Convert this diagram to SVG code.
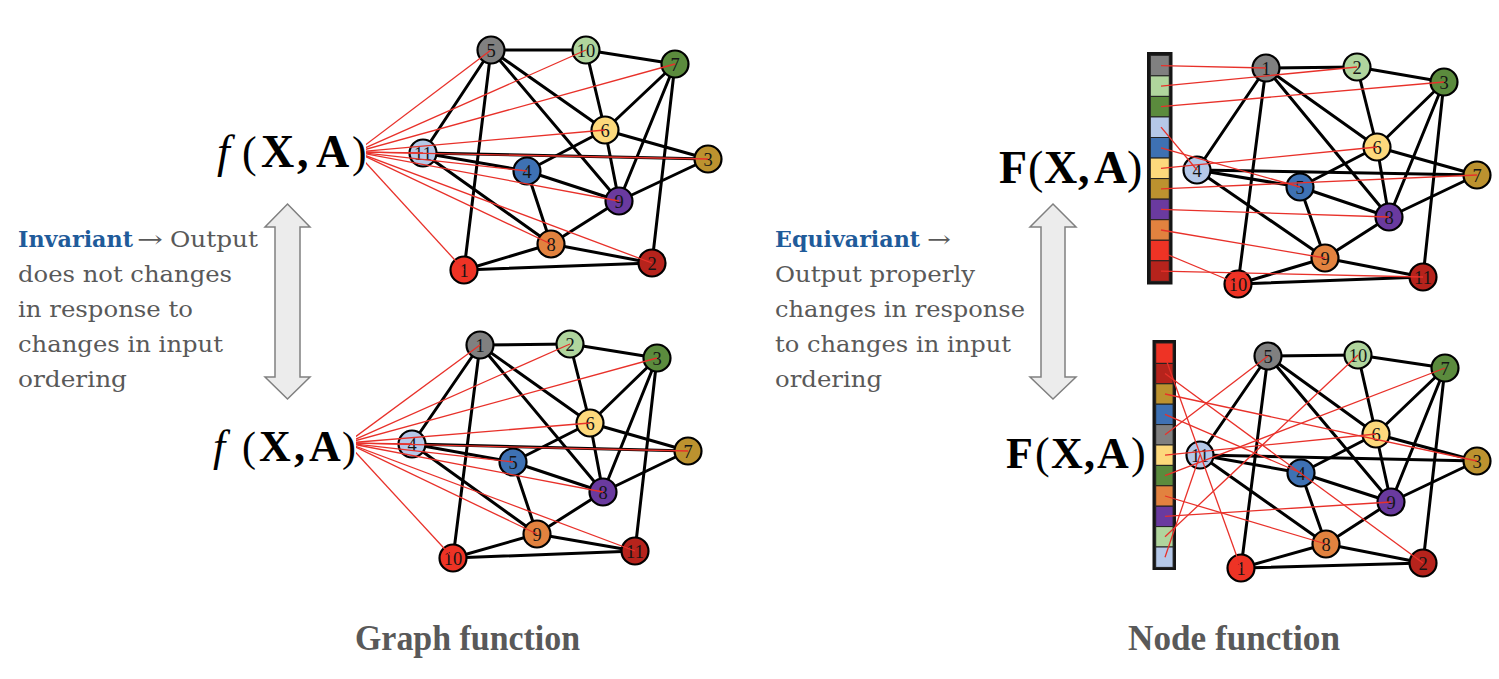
<svg xmlns="http://www.w3.org/2000/svg" width="1499" height="679" viewBox="0 0 1499 679">
<style>
.edge{stroke:#000;stroke-width:3;stroke-linecap:round}
.red{stroke:#e8312a;stroke-width:1.3;fill:none}
.node circle{stroke:#000;stroke-width:2.2}
.node text{font-family:"Liberation Serif",serif;font-size:18.5px;text-anchor:middle;fill:#151515}
.gy{fill:#808080}.lg{fill:#b0d59d}.gn{fill:#5b8b3d}.lb{fill:#b5c8e8}.bl{fill:#3e71b3}.ye{fill:#fdd97c}.ol{fill:#bc922f}.pu{fill:#6a3a9f}.or{fill:#e2823f}.rd{fill:#ee3325}.dr{fill:#b6231c}
.math{font-family:"Liberation Serif",serif;fill:#000}
.body{font-family:"DejaVu Serif",serif;font-size:23px;fill:#595959}
.kw{font-family:"DejaVu Serif",serif;font-size:23px;font-weight:bold;fill:#1f5b9a}
.title{font-family:"Liberation Serif",serif;font-size:35px;font-weight:bold;fill:#595959}
.arrow{fill:#ececec;stroke:#808080;stroke-width:1.5}
.bar{fill:#151515}
.cell{stroke:#222;stroke-width:1}
</style>
<defs>
<clipPath id="clipTL"><rect x="366" y="0" width="400" height="320"/></clipPath>
<clipPath id="clipBL"><rect x="356" y="300" width="400" height="300"/></clipPath>
</defs>

<g id="connectors">
<g id="edges-tl" class="edge">
<line x1="491" y1="50" x2="586" y2="50"/><line x1="586" y1="50" x2="675" y2="64"/><line x1="491" y1="50" x2="423" y2="153"/><line x1="491" y1="50" x2="464" y2="270"/><line x1="491" y1="50" x2="605" y2="130"/><line x1="491" y1="50" x2="619" y2="201"/><line x1="586" y1="50" x2="605" y2="130"/><line x1="675" y1="64" x2="605" y2="130"/><line x1="675" y1="64" x2="619" y2="201"/><line x1="675" y1="64" x2="652" y2="263"/><line x1="605" y1="130" x2="527" y2="171"/><line x1="605" y1="130" x2="708" y2="159"/><line x1="605" y1="130" x2="619" y2="201"/><line x1="423" y1="153" x2="708" y2="159"/><line x1="423" y1="153" x2="527" y2="171"/><line x1="423" y1="153" x2="551" y2="244"/><line x1="527" y1="171" x2="619" y2="201"/><line x1="527" y1="171" x2="551" y2="244"/><line x1="619" y1="201" x2="708" y2="159"/><line x1="619" y1="201" x2="551" y2="244"/><line x1="551" y1="244" x2="464" y2="270"/><line x1="551" y1="244" x2="652" y2="263"/><line x1="464" y1="270" x2="652" y2="263"/>
</g>
<g id="edges-bl" class="edge">
<line x1="480" y1="345" x2="570" y2="344"/><line x1="570" y1="344" x2="657" y2="358"/><line x1="480" y1="345" x2="412" y2="444"/><line x1="480" y1="345" x2="453" y2="558"/><line x1="480" y1="345" x2="590" y2="423"/><line x1="480" y1="345" x2="603" y2="492"/><line x1="570" y1="344" x2="590" y2="423"/><line x1="657" y1="358" x2="590" y2="423"/><line x1="657" y1="358" x2="603" y2="492"/><line x1="657" y1="358" x2="635" y2="551"/><line x1="590" y1="423" x2="513" y2="462"/><line x1="590" y1="423" x2="688" y2="451"/><line x1="590" y1="423" x2="603" y2="492"/><line x1="412" y1="444" x2="688" y2="451"/><line x1="412" y1="444" x2="513" y2="462"/><line x1="412" y1="444" x2="537" y2="534"/><line x1="513" y1="462" x2="603" y2="492"/><line x1="513" y1="462" x2="537" y2="534"/><line x1="603" y1="492" x2="688" y2="451"/><line x1="603" y1="492" x2="537" y2="534"/><line x1="537" y1="534" x2="453" y2="558"/><line x1="537" y1="534" x2="635" y2="551"/><line x1="453" y1="558" x2="635" y2="551"/>
</g>
<g id="edges-tr" class="edge">
<line x1="1266" y1="68" x2="1357" y2="67"/><line x1="1357" y1="67" x2="1444" y2="82"/><line x1="1266" y1="68" x2="1197" y2="170"/><line x1="1266" y1="68" x2="1238" y2="284"/><line x1="1266" y1="68" x2="1377" y2="147"/><line x1="1266" y1="68" x2="1389" y2="217"/><line x1="1357" y1="67" x2="1377" y2="147"/><line x1="1444" y1="82" x2="1377" y2="147"/><line x1="1444" y1="82" x2="1389" y2="217"/><line x1="1444" y1="82" x2="1423" y2="277"/><line x1="1377" y1="147" x2="1300" y2="187"/><line x1="1377" y1="147" x2="1477" y2="175"/><line x1="1377" y1="147" x2="1389" y2="217"/><line x1="1197" y1="170" x2="1477" y2="175"/><line x1="1197" y1="170" x2="1300" y2="187"/><line x1="1197" y1="170" x2="1325" y2="258"/><line x1="1300" y1="187" x2="1389" y2="217"/><line x1="1300" y1="187" x2="1325" y2="258"/><line x1="1389" y1="217" x2="1477" y2="175"/><line x1="1389" y1="217" x2="1325" y2="258"/><line x1="1325" y1="258" x2="1238" y2="284"/><line x1="1325" y1="258" x2="1423" y2="277"/><line x1="1238" y1="284" x2="1423" y2="277"/>
</g>
<g id="edges-br" class="edge">
<line x1="1268" y1="356" x2="1358" y2="355"/><line x1="1358" y1="355" x2="1445" y2="368"/><line x1="1268" y1="356" x2="1200" y2="455"/><line x1="1268" y1="356" x2="1241" y2="568"/><line x1="1268" y1="356" x2="1376" y2="434"/><line x1="1268" y1="356" x2="1391" y2="502"/><line x1="1358" y1="355" x2="1376" y2="434"/><line x1="1445" y1="368" x2="1376" y2="434"/><line x1="1445" y1="368" x2="1391" y2="502"/><line x1="1445" y1="368" x2="1423" y2="563"/><line x1="1376" y1="434" x2="1301" y2="473"/><line x1="1376" y1="434" x2="1477" y2="461"/><line x1="1376" y1="434" x2="1391" y2="502"/><line x1="1200" y1="455" x2="1477" y2="461"/><line x1="1200" y1="455" x2="1301" y2="473"/><line x1="1200" y1="455" x2="1326" y2="544"/><line x1="1301" y1="473" x2="1391" y2="502"/><line x1="1301" y1="473" x2="1326" y2="544"/><line x1="1391" y1="502" x2="1477" y2="461"/><line x1="1391" y1="502" x2="1326" y2="544"/><line x1="1326" y1="544" x2="1241" y2="568"/><line x1="1326" y1="544" x2="1423" y2="563"/><line x1="1241" y1="568" x2="1423" y2="563"/>
</g>
</g>

<g id="tl-n5" class="node"><circle cx="491" cy="50" r="13.5" class="gy"/><text x="491" y="56.5">5</text></g>
<g id="tl-n10" class="node"><circle cx="586" cy="50" r="13.5" class="lg"/><text x="586" y="56.5">10</text></g>
<g id="tl-n7" class="node"><circle cx="675" cy="64" r="13.5" class="gn"/><text x="675" y="70.5">7</text></g>
<g id="tl-n6" class="node"><circle cx="605" cy="130" r="13.5" class="ye"/><text x="605" y="136.5">6</text></g>
<g id="tl-n11" class="node"><circle cx="423" cy="153" r="13.5" class="lb"/><text x="423" y="159.5">11</text></g>
<g id="tl-n3" class="node"><circle cx="708" cy="159" r="13.5" class="ol"/><text x="708" y="165.5">3</text></g>
<g id="tl-n4" class="node"><circle cx="527" cy="171" r="13.5" class="bl"/><text x="527" y="177.5">4</text></g>
<g id="tl-n9" class="node"><circle cx="619" cy="201" r="13.5" class="pu"/><text x="619" y="207.5">9</text></g>
<g id="tl-n8" class="node"><circle cx="551" cy="244" r="13.5" class="or"/><text x="551" y="250.5">8</text></g>
<g id="tl-n1" class="node"><circle cx="464" cy="270" r="13.5" class="rd"/><text x="464" y="276.5">1</text></g>
<g id="tl-n2" class="node"><circle cx="652" cy="263" r="13.5" class="dr"/><text x="652" y="269.5">2</text></g>

<g id="bl-n1" class="node"><circle cx="480" cy="345" r="13.5" class="gy"/><text x="480" y="351.5">1</text></g>
<g id="bl-n2" class="node"><circle cx="570" cy="344" r="13.5" class="lg"/><text x="570" y="350.5">2</text></g>
<g id="bl-n3" class="node"><circle cx="657" cy="358" r="13.5" class="gn"/><text x="657" y="364.5">3</text></g>
<g id="bl-n6" class="node"><circle cx="590" cy="423" r="13.5" class="ye"/><text x="590" y="429.5">6</text></g>
<g id="bl-n4" class="node"><circle cx="412" cy="444" r="13.5" class="lb"/><text x="412" y="450.5">4</text></g>
<g id="bl-n7" class="node"><circle cx="688" cy="451" r="13.5" class="ol"/><text x="688" y="457.5">7</text></g>
<g id="bl-n5" class="node"><circle cx="513" cy="462" r="13.5" class="bl"/><text x="513" y="468.5">5</text></g>
<g id="bl-n8" class="node"><circle cx="603" cy="492" r="13.5" class="pu"/><text x="603" y="498.5">8</text></g>
<g id="bl-n9" class="node"><circle cx="537" cy="534" r="13.5" class="or"/><text x="537" y="540.5">9</text></g>
<g id="bl-n10" class="node"><circle cx="453" cy="558" r="13.5" class="rd"/><text x="453" y="564.5">10</text></g>
<g id="bl-n11" class="node"><circle cx="635" cy="551" r="13.5" class="dr"/><text x="635" y="557.5">11</text></g>

<g id="tr-n1" class="node"><circle cx="1266" cy="68" r="13.5" class="gy"/><text x="1266" y="74.5">1</text></g>
<g id="tr-n2" class="node"><circle cx="1357" cy="67" r="13.5" class="lg"/><text x="1357" y="73.5">2</text></g>
<g id="tr-n3" class="node"><circle cx="1444" cy="82" r="13.5" class="gn"/><text x="1444" y="88.5">3</text></g>
<g id="tr-n6" class="node"><circle cx="1377" cy="147" r="13.5" class="ye"/><text x="1377" y="153.5">6</text></g>
<g id="tr-n4" class="node"><circle cx="1197" cy="170" r="13.5" class="lb"/><text x="1197" y="176.5">4</text></g>
<g id="tr-n7" class="node"><circle cx="1477" cy="175" r="13.5" class="ol"/><text x="1477" y="181.5">7</text></g>
<g id="tr-n5" class="node"><circle cx="1300" cy="187" r="13.5" class="bl"/><text x="1300" y="193.5">5</text></g>
<g id="tr-n8" class="node"><circle cx="1389" cy="217" r="13.5" class="pu"/><text x="1389" y="223.5">8</text></g>
<g id="tr-n9" class="node"><circle cx="1325" cy="258" r="13.5" class="or"/><text x="1325" y="264.5">9</text></g>
<g id="tr-n10" class="node"><circle cx="1238" cy="284" r="13.5" class="rd"/><text x="1238" y="290.5">10</text></g>
<g id="tr-n11" class="node"><circle cx="1423" cy="277" r="13.5" class="dr"/><text x="1423" y="283.5">11</text></g>

<g id="br-n5" class="node"><circle cx="1268" cy="356" r="13.5" class="gy"/><text x="1268" y="362.5">5</text></g>
<g id="br-n10" class="node"><circle cx="1358" cy="355" r="13.5" class="lg"/><text x="1358" y="361.5">10</text></g>
<g id="br-n7" class="node"><circle cx="1445" cy="368" r="13.5" class="gn"/><text x="1445" y="374.5">7</text></g>
<g id="br-n6" class="node"><circle cx="1376" cy="434" r="13.5" class="ye"/><text x="1376" y="440.5">6</text></g>
<g id="br-n11" class="node"><circle cx="1200" cy="455" r="13.5" class="lb"/><text x="1200" y="461.5">11</text></g>
<g id="br-n3" class="node"><circle cx="1477" cy="461" r="13.5" class="ol"/><text x="1477" y="467.5">3</text></g>
<g id="br-n4" class="node"><circle cx="1301" cy="473" r="13.5" class="bl"/><text x="1301" y="479.5">4</text></g>
<g id="br-n9" class="node"><circle cx="1391" cy="502" r="13.5" class="pu"/><text x="1391" y="508.5">9</text></g>
<g id="br-n8" class="node"><circle cx="1326" cy="544" r="13.5" class="or"/><text x="1326" y="550.5">8</text></g>
<g id="br-n1" class="node"><circle cx="1241" cy="568" r="13.5" class="rd"/><text x="1241" y="574.5">1</text></g>
<g id="br-n2" class="node"><circle cx="1423" cy="563" r="13.5" class="dr"/><text x="1423" y="569.5">2</text></g>

<g id="bar-tr">
<rect class="bar" x="1147" y="52" width="25.5" height="232.5"/>
<rect class="cell gy" x="1150.3" y="55.3" width="19" height="20.55"/>
<rect class="cell lg" x="1150.3" y="75.85" width="19" height="20.55"/>
<rect class="cell gn" x="1150.3" y="96.4" width="19" height="20.55"/>
<rect class="cell lb" x="1150.3" y="116.95" width="19" height="20.55"/>
<rect class="cell bl" x="1150.3" y="137.5" width="19" height="20.55"/>
<rect class="cell ye" x="1150.3" y="158.05" width="19" height="20.55"/>
<rect class="cell ol" x="1150.3" y="178.6" width="19" height="20.55"/>
<rect class="cell pu" x="1150.3" y="199.15" width="19" height="20.55"/>
<rect class="cell or" x="1150.3" y="219.7" width="19" height="20.55"/>
<rect class="cell rd" x="1150.3" y="240.25" width="19" height="20.55"/>
<rect class="cell dr" x="1150.3" y="260.8" width="19" height="20.55"/>
</g>
<g id="bar-br">
<rect class="bar" x="1152.5" y="340" width="23.5" height="230"/>
<rect class="cell rd" x="1155.7" y="343" width="17.4" height="20.4"/>
<rect class="cell dr" x="1155.7" y="363.4" width="17.4" height="20.4"/>
<rect class="cell ol" x="1155.7" y="383.8" width="17.4" height="20.4"/>
<rect class="cell bl" x="1155.7" y="404.2" width="17.4" height="20.4"/>
<rect class="cell gy" x="1155.7" y="424.6" width="17.4" height="20.4"/>
<rect class="cell ye" x="1155.7" y="445" width="17.4" height="20.4"/>
<rect class="cell gn" x="1155.7" y="465.4" width="17.4" height="20.4"/>
<rect class="cell or" x="1155.7" y="485.8" width="17.4" height="20.4"/>
<rect class="cell pu" x="1155.7" y="506.2" width="17.4" height="20.4"/>
<rect class="cell lg" x="1155.7" y="526.6" width="17.4" height="20.4"/>
<rect class="cell lb" x="1155.7" y="547" width="17.4" height="20.4"/>
</g>

<g id="readout-connectors">
<g id="red-tl" class="red" clip-path="url(#clipTL)">
<line x1="356" y1="152" x2="491" y2="50"/><line x1="356" y1="152" x2="586" y2="50"/><line x1="356" y1="152" x2="675" y2="64"/><line x1="356" y1="152" x2="605" y2="130"/><line x1="356" y1="152" x2="423" y2="153"/><line x1="356" y1="152" x2="708" y2="159"/><line x1="356" y1="152" x2="527" y2="171"/><line x1="356" y1="152" x2="619" y2="201"/><line x1="356" y1="152" x2="551" y2="244"/><line x1="356" y1="152" x2="464" y2="270"/><line x1="356" y1="152" x2="652" y2="263"/>
</g>
<g id="red-bl" class="red" clip-path="url(#clipBL)">
<line x1="347" y1="443" x2="480" y2="345"/><line x1="347" y1="443" x2="570" y2="344"/><line x1="347" y1="443" x2="657" y2="358"/><line x1="347" y1="443" x2="590" y2="423"/><line x1="347" y1="443" x2="412" y2="444"/><line x1="347" y1="443" x2="688" y2="451"/><line x1="347" y1="443" x2="513" y2="462"/><line x1="347" y1="443" x2="603" y2="492"/><line x1="347" y1="443" x2="537" y2="534"/><line x1="347" y1="443" x2="453" y2="558"/><line x1="347" y1="443" x2="635" y2="551"/>
</g>
<g id="red-tr" class="red">
<line x1="1161" y1="65.6" x2="1266" y2="68"/><line x1="1161" y1="86.1" x2="1357" y2="67"/><line x1="1161" y1="106.7" x2="1444" y2="82"/><line x1="1161" y1="127.2" x2="1197" y2="170"/><line x1="1161" y1="147.8" x2="1300" y2="187"/><line x1="1161" y1="168.3" x2="1377" y2="147"/><line x1="1161" y1="188.9" x2="1477" y2="175"/><line x1="1161" y1="209.4" x2="1389" y2="217"/><line x1="1161" y1="230" x2="1325" y2="258"/><line x1="1166" y1="254" x2="1238" y2="284"/><line x1="1161" y1="271.1" x2="1423" y2="277"/>
</g>
<g id="red-br" class="red">
<line x1="1167" y1="362" x2="1241" y2="568"/><line x1="1165" y1="373.6" x2="1423" y2="563"/><line x1="1165" y1="394" x2="1477" y2="461"/><line x1="1165" y1="414.4" x2="1301" y2="473"/><line x1="1165" y1="434.8" x2="1268" y2="356"/><line x1="1165" y1="455.2" x2="1376" y2="434"/><line x1="1165" y1="475.6" x2="1445" y2="368"/><line x1="1165" y1="496" x2="1326" y2="544"/><line x1="1165" y1="516.4" x2="1391" y2="502"/><line x1="1165" y1="536.8" x2="1358" y2="355"/><line x1="1165" y1="557.2" x2="1200" y2="455"/>
</g>
</g>

<g id="math-labels">
<text class="math" font-size="44" y="167"><tspan x="217" font-style="italic" font-size="46">f</tspan><tspan x="242">(</tspan><tspan x="261" font-weight="bold" font-size="46">X</tspan><tspan x="297" font-weight="bold" font-size="46">,</tspan><tspan x="316" font-weight="bold" font-size="46">A</tspan><tspan x="352">)</tspan></text>
<text class="math" font-size="42" y="461"><tspan x="213" font-style="italic" font-size="44">f</tspan><tspan x="242">(</tspan><tspan x="259" font-weight="bold" font-size="44">X</tspan><tspan x="294" font-weight="bold" font-size="44">,</tspan><tspan x="309" font-weight="bold" font-size="44">A</tspan><tspan x="342">)</tspan></text>
<text class="math" font-size="46" y="183" font-weight="bold"><tspan x="999">F</tspan><tspan x="1028" font-weight="normal">(</tspan><tspan x="1044">X</tspan><tspan x="1078">,</tspan><tspan x="1094">A</tspan><tspan x="1127" font-weight="normal">)</tspan></text>
<text class="math" font-size="44" y="468" font-weight="bold"><tspan x="1006">F</tspan><tspan x="1035" font-weight="normal">(</tspan><tspan x="1051">X</tspan><tspan x="1084">,</tspan><tspan x="1097">A</tspan><tspan x="1131" font-weight="normal">)</tspan></text>
</g>

<path id="arrow-left" class="arrow" d="M287.5,204 L310,227 L300,227 L300,377 L310,377 L287.5,399 L265,377 L275,377 L275,227 L265,227 Z"/>
<path id="arrow-right" class="arrow" d="M1053,204 L1076,227 L1065,227 L1065,377 L1076,377 L1053,399 L1030,377 L1041,377 L1041,227 L1030,227 Z"/>

<g id="desc-left">
<text class="kw" x="18" y="246.5" textLength="115" lengthAdjust="spacingAndGlyphs">Invariant</text>
<text class="body" x="137" y="246.5" textLength="26" lengthAdjust="spacingAndGlyphs">→</text>
<text class="body" x="170" y="246.5" textLength="88" lengthAdjust="spacingAndGlyphs">Output</text>
<text class="body" x="18" y="281.5" textLength="214" lengthAdjust="spacingAndGlyphs">does not changes</text>
<text class="body" x="18" y="316.5" textLength="175" lengthAdjust="spacingAndGlyphs">in response to</text>
<text class="body" x="18" y="351.5" textLength="205" lengthAdjust="spacingAndGlyphs">changes in input</text>
<text class="body" x="18" y="386.5" textLength="109" lengthAdjust="spacingAndGlyphs">ordering</text>
</g>
<g id="desc-right">
<text class="kw" x="775" y="246.5" textLength="145" lengthAdjust="spacingAndGlyphs">Equivariant</text>
<text class="body" x="927" y="246.5" textLength="24" lengthAdjust="spacingAndGlyphs">→</text>
<text class="body" x="775" y="281.5" textLength="200" lengthAdjust="spacingAndGlyphs">Output properly</text>
<text class="body" x="775" y="316.5" textLength="250" lengthAdjust="spacingAndGlyphs">changes in response</text>
<text class="body" x="775" y="351.5" textLength="236" lengthAdjust="spacingAndGlyphs">to changes in input</text>
<text class="body" x="775" y="386.5" textLength="107" lengthAdjust="spacingAndGlyphs">ordering</text>
</g>

<text class="title" x="355" y="650" textLength="225" lengthAdjust="spacingAndGlyphs">Graph function</text>
<text class="title" x="1128" y="650" textLength="212" lengthAdjust="spacingAndGlyphs">Node function</text>
</svg>
